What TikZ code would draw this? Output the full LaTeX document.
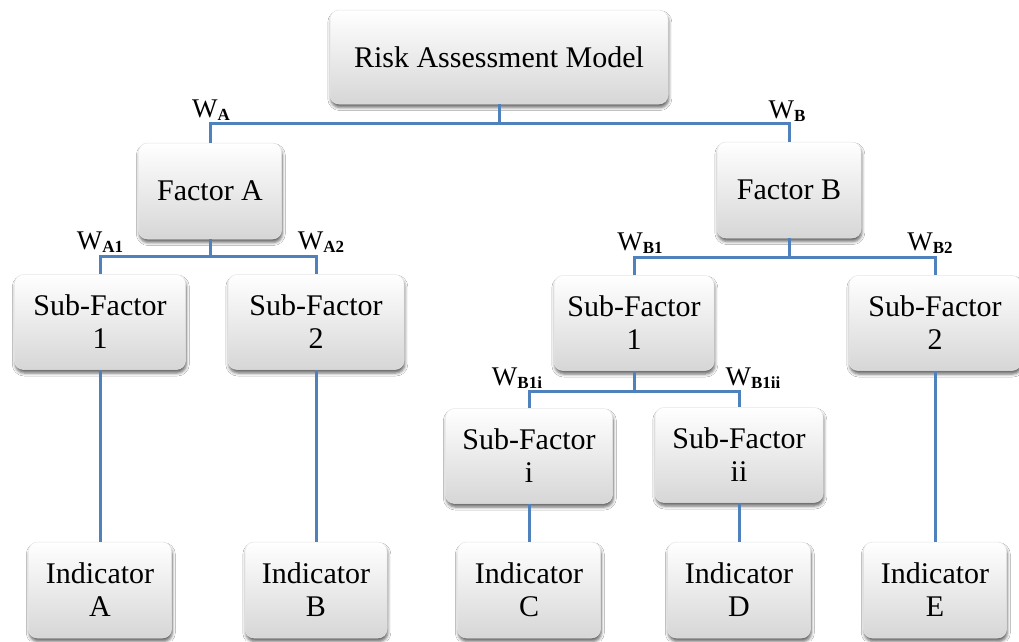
\documentclass[tikz,border=0pt]{standalone}
\usepackage{fontspec}
\setmainfont{Liberation Serif}
\usetikzlibrary{shadows.blur}

\definecolor{linkblue}{HTML}{4F81BD}

% weight label: W with a small bold subscript
\newcommand\wlab[1]{W\raisebox{-3.5pt}{\fontsize{17}{17}\selectfont\bfseries #1}}

\tikzset{
  box/.style={rounded corners=9pt, top color=white, bottom color=black!16,
    draw=black!10, line width=0.5pt,
    blur shadow={shadow xshift=0.8pt, shadow yshift=-3.5pt, shadow blur radius=3pt, shadow opacity=60},
    align=center, inner sep=0pt, font=\fontsize{30}{33}\selectfont},
  link/.style={draw=linkblue, line width=3pt},
  wl/.style={anchor=base, inner sep=0pt, font=\fontsize{27}{27}\selectfont},
}

\begin{document}
\begin{tikzpicture}[x=1pt, y=-1pt]
  \fill[white] (0,0) rectangle (1019,641);
  \useasboundingbox (0,0) rectangle (1019,641);

  % boxes
  \node[box, minimum width=338pt, minimum height=94pt] (root) at (499,57) {Risk Assessment Model};
  \node[box, minimum width=143pt, minimum height=96pt] (fa) at (210,191) {Factor A};
  \node[box, minimum width=144pt, minimum height=96pt] (fb) at (789,190) {Factor B};

  \node[box, minimum width=171pt, minimum height=95pt] (sf1a) at (100,322) {Sub-Factor\\1};
  \node[box, minimum width=176pt, minimum height=95pt] (sf2a) at (316,322) {Sub-Factor\\2};
  \node[box, minimum width=160pt, minimum height=95pt] (sf1b) at (634,323) {Sub-Factor\\1};
  \node[box, minimum width=172pt, minimum height=95pt] (sf2b) at (935,323) {Sub-Factor\\2};

  \node[box, minimum width=167pt, minimum height=95pt] (sfi) at (529,456) {Sub-Factor\\i};
  \node[box, minimum width=168pt, minimum height=95pt] (sfii) at (739,455) {Sub-Factor\\ii};

  \node[box, minimum width=143pt, minimum height=96pt] (inda) at (100,590) {Indicator\\A};
  \node[box, minimum width=142pt, minimum height=96pt] (indb) at (316,590) {Indicator\\B};
  \node[box, minimum width=143pt, minimum height=96pt] (indc) at (529,590) {Indicator\\C};
  \node[box, minimum width=143pt, minimum height=96pt] (indd) at (739,590) {Indicator\\D};
  \node[box, minimum width=143pt, minimum height=96pt] (inde) at (935,590) {Indicator\\E};

  % branch junctions
  \coordinate (jroot) at (root.south |- 0,123);
  \coordinate (jfa) at (fa.south |- 0,256);
  \coordinate (jfb) at (fb.south |- 0,257);
  \coordinate (jsf1b) at (sf1b.south |- 0,391);

  % connectors
  \draw[link] (root.south) -- (jroot);
  \draw[link] (fa.north) |- (jroot) -| (fb.north);

  \draw[link] (fa.south) -- (jfa);
  \draw[link] (sf1a.north) |- (jfa) -| (sf2a.north);

  \draw[link] (fb.south) -- (jfb);
  \draw[link] (sf1b.north) |- (jfb) -| (sf2b.north);

  \draw[link] (sf1b.south) -- (jsf1b);
  \draw[link] (sfi.north) |- (jsf1b) -| (sfii.north);

  \draw[link] (sf1a.south) -- (inda.north);
  \draw[link] (sf2a.south) -- (indb.north);
  \draw[link] (sfi.south) -- (indc.north);
  \draw[link] (sfii.south) -- (indd.north);
  \draw[link] (sf2b.south) -- (inde.north);

  % weights
  \node[wl] (wa) at (211,117) {\wlab{A}};
  \node[wl] (wb) at (787,118) {\wlab{B}};
  \node[wl] (wa1) at (100,249) {\wlab{A1}};
  \node[wl] (wa2) at (321,249) {\wlab{A2}};
  \node[wl] (wb1) at (640,250) {\wlab{B1}};
  \node[wl] (wb2) at (930,250) {\wlab{B2}};
  \node[wl] (wb1i) at (517,385) {\wlab{B1i}};
  \node[wl] (wb1ii) at (753,385) {\wlab{B1ii}};
\end{tikzpicture}
\end{document}
